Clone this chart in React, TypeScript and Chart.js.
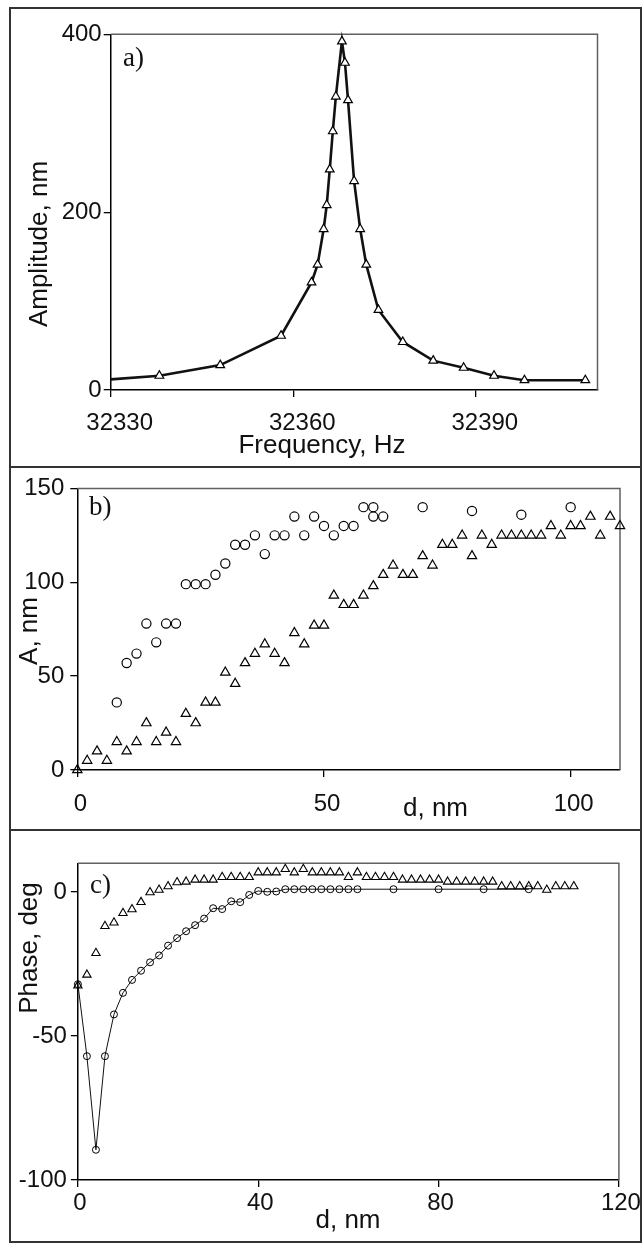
import React, { useEffect, useRef } from 'react';
import { Chart, registerables } from 'chart.js';

Chart.register(...registerables);

// ---------- DATA ----------
// Panel a) resonance curve
const freqHz = [32330, 32338, 32348, 32358, 32363, 32364, 32365, 32365.5, 32366, 32366.5, 32367, 32368, 32368.5, 32369, 32370, 32371, 32372, 32374, 32378, 32383, 32388, 32393, 32398, 32408];
const amplitudeNm = [12, 16, 28, 61, 121, 141, 181, 208, 248, 291, 330, 392, 368, 326, 235, 181, 141, 90, 54, 33, 25, 16, 11, 11];
const aXTicks = [32330, 32360, 32390];
const aYTicks = [0, 200, 400];

// Panel b) amplitude vs distance
const bCircleD = [8, 10, 12, 14, 16, 18, 20, 22, 24, 26, 28, 30, 32, 34, 36, 38, 40, 42, 44, 46, 48, 50, 52, 54, 56, 58, 60, 60, 62, 70, 80, 90, 100];
const bCircleA = [36, 57, 62, 78, 68, 78, 78, 99, 99, 99, 104, 110, 120, 120, 125, 115, 125, 125, 135, 125, 135, 130, 125, 130, 130, 140, 140, 135, 135, 140, 138, 136, 140];
const bTriD = [0, 2, 4, 6, 8, 10, 12, 14, 16, 18, 20, 22, 24, 26, 28, 30, 32, 34, 36, 38, 40, 42, 44, 46, 48, 50, 52, 54, 56, 58, 60, 62, 64, 66, 68, 70, 72, 74, 76, 78, 80, 82, 84, 86, 88, 90, 92, 94, 96, 98, 100, 102, 104, 106, 108, 110];
const bTriA = [0, 5, 10, 5, 15, 10, 15, 25, 15, 20, 15, 30, 25, 36, 36, 52, 46, 57, 62, 67, 62, 57, 73, 67, 77, 77, 93, 88, 88, 93, 98, 104, 109, 104, 104, 114, 109, 120, 120, 125, 114, 125, 120, 125, 125, 125, 125, 125, 130, 125, 130, 130, 135, 125, 135, 130];
const bXTicks = [0, 50, 100];
const bYTicks = [0, 50, 100, 150];

// Panel c) phase vs distance
const cCircleD = [0, 2, 4, 6, 8, 10, 12, 14, 16, 18, 20, 22, 24, 26, 28, 30, 32, 34, 36, 38, 40, 42, 44, 46, 48, 50, 52, 54, 56, 58, 60, 62, 70, 80, 90, 100];
const cCirclePhase = [-32, -57, -89.5, -57, -42.5, -35, -30.5, -27.3, -24.4, -22, -18.6, -16, -13.6, -11.5, -9.2, -5.6, -5.9, -3.2, -3.5, -1, 0.4, 0.1, 0.2, 1, 1, 1, 1, 1, 1, 1, 1, 1, 1, 1, 1, 1];
const cTriD = [0, 2, 4, 6, 8, 10, 12, 14, 16, 18, 20, 22, 24, 26, 28, 30, 32, 34, 36, 38, 40, 42, 44, 46, 48, 50, 52, 54, 56, 58, 60, 62, 64, 66, 68, 70, 72, 74, 76, 78, 80, 82, 84, 86, 88, 90, 92, 94, 96, 98, 100, 102, 104, 106, 108, 110];
const cTriPhase = [-32.5, -28.7, -21.2, -11.8, -10.6, -7.3, -6, -3.5, -0.1, 0.8, 2, 3.4, 3.6, 4.3, 4.3, 4.3, 5.2, 5.2, 5.2, 5.2, 6.8, 6.8, 6.8, 8, 6.8, 8, 6.8, 6.8, 6.8, 6.8, 5.2, 6.8, 5.2, 5.2, 5.2, 5.2, 4.3, 4.3, 4.3, 4.3, 4.3, 3.6, 3.6, 3.6, 3.6, 3.6, 3.6, 2, 2, 2, 2, 2, 0.8, 2, 2, 2];
const cXTicks = [0, 40, 80, 120];
const cYTicks = [-100, -50, 0];

// ---------- STYLE ----------
const SANS = '"Liberation Sans", Arial, Helvetica, sans-serif';
const SERIF = '"Liberation Serif", "Times New Roman", serif';
const W = 643;

const pts = (xs: number[], ys: number[]) => xs.map((x, i) => ({ x, y: ys[i] }));

type Spec = {
  top: number;
  height: number;
  area: { left: number; top: number; right: number; bottom: number };
  x: { min: number; max: number; ticks: number[]; pad: number; offset: number };
  y: { min: number; max: number; ticks: number[]; pad: number };
  datasets: any[];
  yTitle: { text: string; x: number; y: number };
  xTitle: { text: string; x: number; y: number };
  tag: { text: string; x: number; y: number };
};

function buildConfig(s: Spec): any {
  const tickFont = { family: SANS, size: 24 };
  const grid = {
    display: true,
    drawOnChartArea: false,
    drawTicks: true,
    tickLength: 7,
    color: '#000',
    lineWidth: 1.3,
  };
  const border = { display: true, color: '#000', width: 1.5 };
  const decor = {
    id: 'decor',
    beforeDatasetsDraw(chart: any) {
      const { ctx, chartArea: a } = chart;
      ctx.save();
      ctx.strokeStyle = '#606060';
      ctx.lineWidth = 1.5;
      ctx.beginPath();
      ctx.moveTo(a.left, a.top);
      ctx.lineTo(a.right, a.top);
      ctx.lineTo(a.right, a.bottom);
      ctx.stroke();
      ctx.restore();
    },
    afterDraw(chart: any) {
      const ctx = chart.ctx;
      ctx.save();
      ctx.fillStyle = '#111';
      ctx.font = `26px ${SANS}`;
      ctx.textBaseline = 'alphabetic';
      ctx.textAlign = 'center';
      ctx.fillText(s.xTitle.text, s.xTitle.x, s.xTitle.y);
      ctx.save();
      ctx.translate(s.yTitle.x, s.yTitle.y);
      ctx.rotate(-Math.PI / 2);
      ctx.fillText(s.yTitle.text, 0, 0);
      ctx.restore();
      ctx.font = `27px ${SERIF}`;
      ctx.textAlign = 'left';
      ctx.fillText(s.tag.text, s.tag.x, s.tag.y);
      ctx.restore();
    },
  };
  return {
    type: 'scatter',
    data: { datasets: s.datasets },
    options: {
      responsive: false,
      animation: false,
      devicePixelRatio: 1,
      events: [],
      layout: {
        autoPadding: false,
        padding: { left: 0, top: s.area.top, right: W - s.area.right, bottom: 0 },
      },
      plugins: { legend: { display: false }, tooltip: { enabled: false } },
      scales: {
        x: {
          type: 'linear',
          min: s.x.min,
          max: s.x.max,
          afterFit: (sc: any) => { sc.height = s.height - s.area.bottom; },
          afterBuildTicks: (sc: any) => { sc.ticks = s.x.ticks.map((v) => ({ value: v })); },
          ticks: {
            font: tickFont,
            color: '#111',
            padding: s.x.pad,
            labelOffset: s.x.offset,
            maxRotation: 0,
            autoSkip: false,
            callback: (v: any) => String(v),
          },
          grid,
          border,
        },
        y: {
          type: 'linear',
          min: s.y.min,
          max: s.y.max,
          afterFit: (sc: any) => { sc.width = s.area.left; },
          afterBuildTicks: (sc: any) => { sc.ticks = s.y.ticks.map((v) => ({ value: v })); },
          ticks: {
            font: tickFont,
            color: '#111',
            padding: s.y.pad,
            autoSkip: false,
            callback: (v: any) => String(v),
          },
          grid,
          border,
        },
      },
    },
    plugins: [decor],
  };
}

const specA: Spec = {
  top: 9,
  height: 457,
  area: { left: 110.7, top: 25.3, right: 597.5, bottom: 381 },
  x: { min: 32330, max: 32410, ticks: aXTicks, pad: 12, offset: 9 },
  y: { min: 0, max: 400, ticks: aYTicks, pad: 2 },
  datasets: [
    {
      data: pts(freqHz, amplitudeNm),
      showLine: true,
      borderColor: '#111',
      borderWidth: 2.6,
      tension: 0,
      pointStyle: 'triangle',
      pointRadius: (c: any) => (c.dataIndex === 0 ? 0 : 5),
      pointBorderWidth: 1.2,
      pointBorderColor: '#000',
      pointBackgroundColor: '#fff',
      clip: false,
    },
  ],
  yTitle: { text: 'Amplitude, nm', x: 47, y: 235 },
  xTitle: { text: 'Frequency, Hz', x: 322, y: 444 },
  tag: { text: 'a)', x: 123, y: 57 },
};

const specB: Spec = {
  top: 468,
  height: 361,
  area: { left: 77.3, top: 19.3, right: 620, bottom: 302 },
  x: { min: 0, max: 110, ticks: bXTicks, pad: 13, offset: 3 },
  y: { min: 0, max: 150, ticks: bYTicks, pad: 6 },
  datasets: [
    {
      data: pts(bCircleD, bCircleA),
      showLine: false,
      pointStyle: 'circle',
      pointRadius: 4.6,
      pointBorderWidth: 1.2,
      pointBorderColor: '#000',
      pointBackgroundColor: 'rgba(255,255,255,0)',
      clip: false,
    },
    {
      data: pts(bTriD, bTriA),
      showLine: false,
      pointStyle: 'triangle',
      pointRadius: 5.4,
      pointBorderWidth: 1.2,
      pointBorderColor: '#000',
      pointBackgroundColor: 'rgba(255,255,255,0)',
      clip: false,
    },
  ],
  yTitle: { text: 'A, nm', x: 37, y: 163 },
  xTitle: { text: 'd, nm', x: 435.5, y: 348 },
  tag: { text: 'b)', x: 89, y: 47 },
};

const specC: Spec = {
  top: 831,
  height: 410,
  area: { left: 77.9, top: 32.3, right: 618.9, bottom: 349 },
  x: { min: 0, max: 120, ticks: cXTicks, pad: 2, offset: 2 },
  y: { min: -100, max: 10, ticks: cYTicks, pad: 4 },
  datasets: [
    {
      data: pts(cCircleD, cCirclePhase),
      showLine: true,
      borderColor: '#111',
      borderWidth: 1,
      tension: 0,
      pointStyle: 'circle',
      pointRadius: 3.5,
      pointBorderWidth: 1,
      pointBorderColor: '#000',
      pointBackgroundColor: 'rgba(255,255,255,0)',
      clip: false,
    },
    {
      data: pts(cTriD, cTriPhase),
      showLine: false,
      pointStyle: 'triangle',
      pointRadius: 4.8,
      pointBorderWidth: 1.1,
      pointBorderColor: '#000',
      pointBackgroundColor: 'rgba(255,255,255,0)',
      clip: false,
    },
  ],
  yTitle: { text: 'Phase, deg', x: 37, y: 117 },
  xTitle: { text: 'd, nm', x: 348, y: 397 },
  tag: { text: 'c)', x: 90, y: 62 },
};

function Panel({ spec }: { spec: Spec }) {
  const ref = useRef<HTMLCanvasElement | null>(null);
  useEffect(() => {
    if (!ref.current) return;
    const chart = new Chart(ref.current, buildConfig(spec));
    return () => chart.destroy();
  }, [spec]);
  return (
    <canvas
      ref={ref}
      width={W}
      height={spec.height}
      style={{ position: 'absolute', left: 0, top: spec.top, width: W, height: spec.height, zIndex: 1 }}
    />
  );
}

export default function App() {
  const line = '#333';
  return (
    <div style={{ position: 'absolute', left: 0, top: 0, width: W, height: 1243, background: '#fff', overflow: 'hidden' }}>
      <Panel spec={specA} />
      <Panel spec={specB} />
      <Panel spec={specC} />
      <div
        style={{
          position: 'absolute', left: 9, top: 7, width: 633, height: 1236,
          border: `2px solid ${line}`, boxSizing: 'border-box', zIndex: 2, pointerEvents: 'none',
        }}
      />
      <div style={{ position: 'absolute', left: 9, top: 466, width: 633, height: 2, background: line, zIndex: 2 }} />
      <div style={{ position: 'absolute', left: 9, top: 829, width: 633, height: 2, background: line, zIndex: 2 }} />
    </div>
  );
}
